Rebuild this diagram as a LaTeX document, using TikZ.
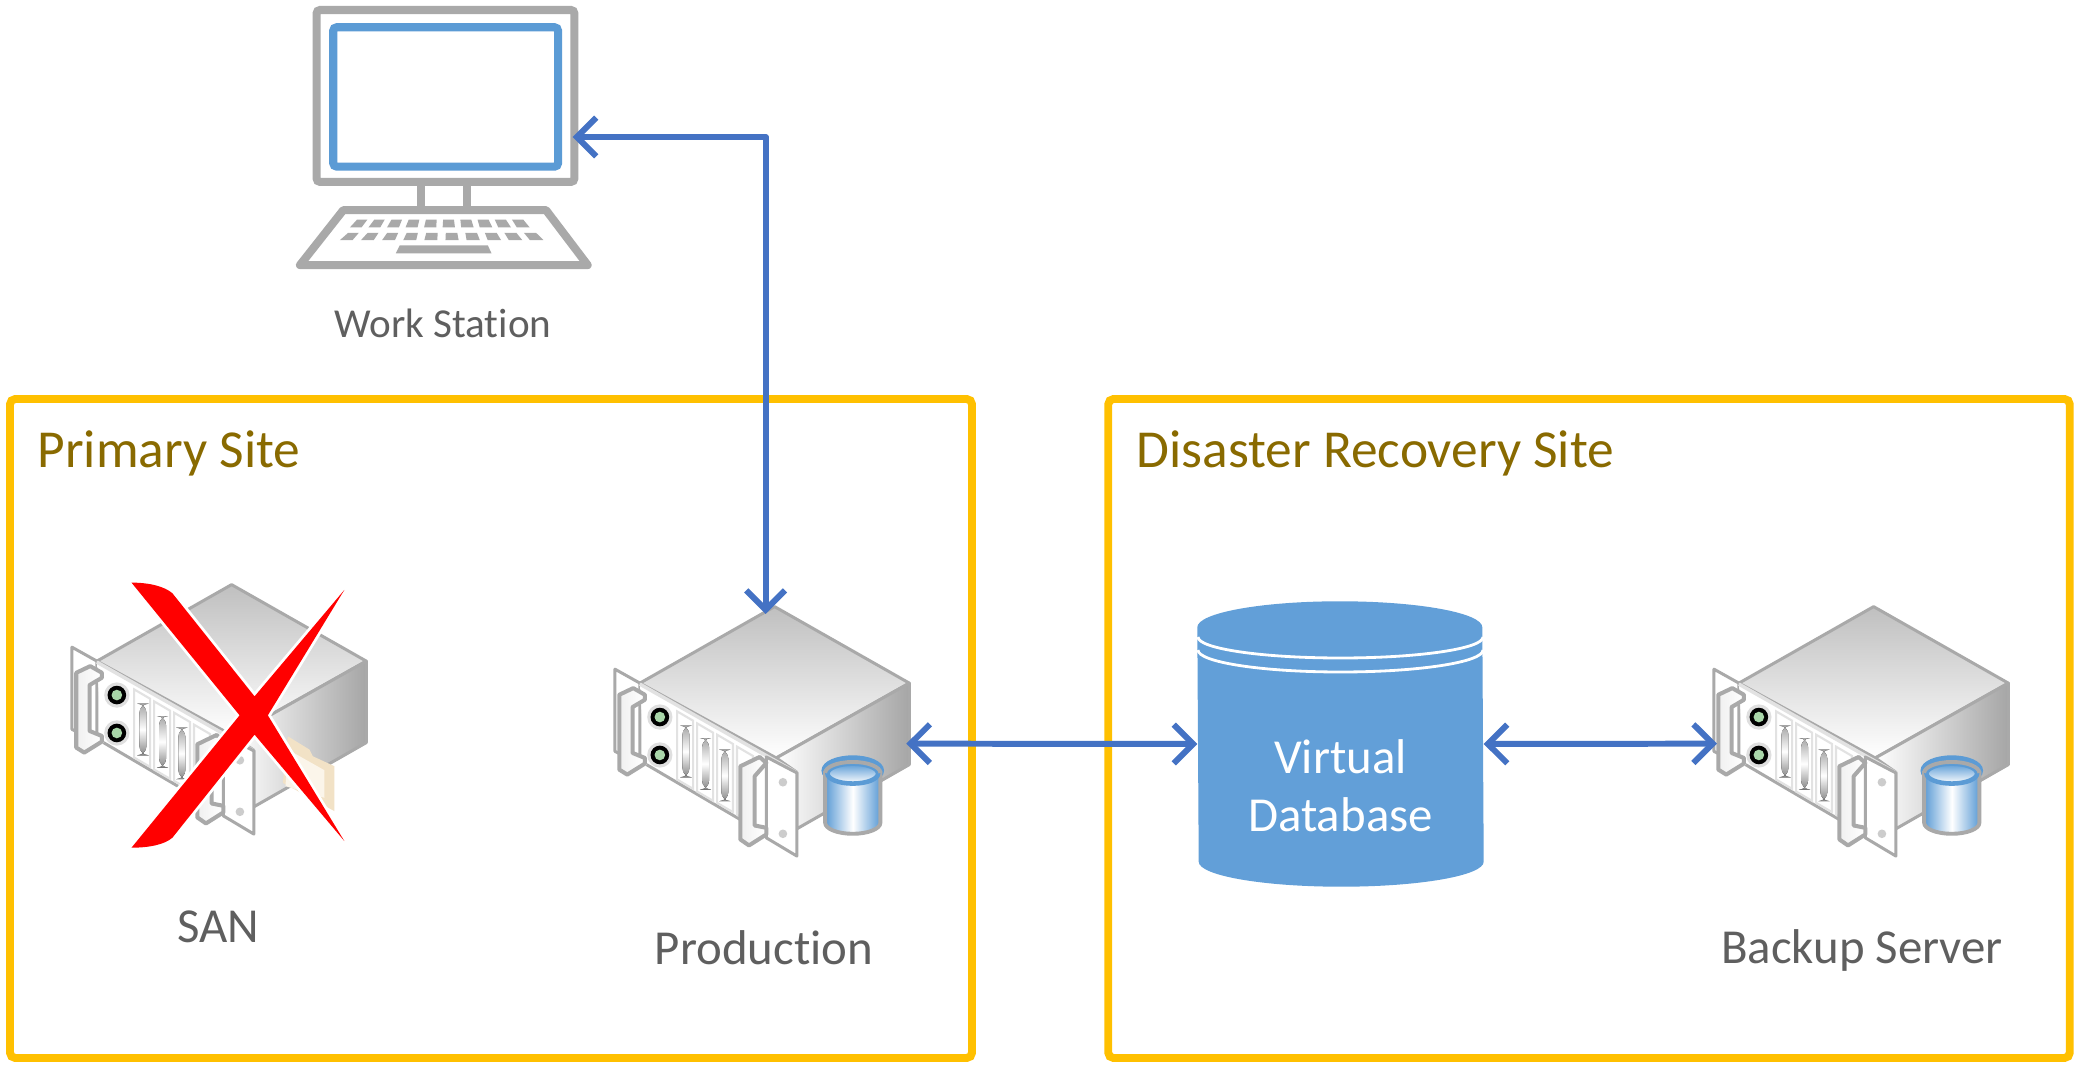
\documentclass[tikz,border=0pt]{standalone}
\usepackage{fontspec}
\setmainfont[Ligatures=NoCommon]{Carlito}
\usetikzlibrary{arrows.meta}
\definecolor{sitegold}{HTML}{FFC000}
\definecolor{titlegold}{HTML}{896A00}
\definecolor{labelgray}{HTML}{5F5F5F}
\definecolor{linkblue}{HTML}{4472C4}
\definecolor{dbblue}{HTML}{629FD8}
\definecolor{iconblue}{HTML}{5B9BD5}
\definecolor{icongray}{HTML}{A9A9A9}
\definecolor{rimgray}{HTML}{E2E2E2}
\definecolor{foldertan}{HTML}{F2E2C6}
\definecolor{foldercream}{HTML}{FBF5EA}
\tikzset{
  zoomgrid/.style={x=0.0033333cm,y=-0.0033333cm},
  sitebox/.style={draw=sitegold,line width=2.25pt,rounded corners=1.5pt},
  sitetitle/.style={text=titlegold,anchor=west,font=\fontsize{15.2}{18}\selectfont,inner sep=0pt},
  devlabel/.style={text=labelgray,font=\fontsize{13.9}{17}\selectfont,inner sep=0pt},
  link/.style={draw=linkblue,line width=1.7pt,line cap=round,line join=round,
    {Straight Barb[length=5.5pt,width=11pt,line width=1.7pt]}-{Straight Barb[length=5.5pt,width=11pt,line width=1.7pt]}},
  hull/.style={draw=icongray,line width=.85pt,line join=round},
  lug/.style={hull,line width=1.15pt,left color=gray!12,right color=white},
  pill/.style={rounded corners=2.6pt,top color=gray!70,bottom color=gray!95,middle color=white},
  server/.pic={
    \begin{scope}[zoomgrid]
      % rear ears sit behind the chassis
      \draw[hull,fill=white] (75,238) -- (150,280) -- (150,525) -- (75,485) -- cycle;
      \draw[hull,top color=gray!50,bottom color=white] (150,280) -- (555,50) -- (960,280) -- (560,505) -- cycle;
      \draw[hull,left color=white,right color=gray!70,draw=icongray] (560,505) -- (960,280) -- (960,525) -- (622,718) -- (622,548) -- cycle;
      \fill[white] (150,280) -- (622,548) -- (622,718) -- (165,525) -- cycle;
      \draw[rimgray,line width=1pt] (150,283) -- (622,550);
      \draw[hull] (170,525) -- (455,692);
      \draw[hull,fill=white] (530,502) -- (622,550) -- (622,800) -- (530,745) -- cycle;
      % front panel
      \foreach \a/\b in {262/0,322/36,382/70,442/106}
        \draw[rimgray,fill=white,line width=.6pt] (\a,365+\b) -- (\a+48,393+\b) -- (\a+48,598+\b) -- (\a,570+\b) -- cycle;
      \foreach \a/\b in {278/408,337/445,395/480}
        \fill[pill] (\a,\b) rectangle (\a+21,\b+155);
      \foreach \b in {382,496}{
        \fill[gray!25] (210,\b) circle (38);
        \fill[black] (210,\b) circle (28);
        \fill[green!35!gray!50] (210,\b) circle (16);
      }
      \foreach \b in {578,733}
        \fill[gray!40] (580,\b) circle (13);
      % handles
      \draw[lug] (88,315) -- (130,295) -- (165,315) -- (165,330) -- (128,352) -- (128,490) -- (165,505) -- (165,522) -- (112,555) -- (88,540) -- cycle;
      \draw[lug] (452,530) -- (510,502) -- (530,520) -- (495,560) -- (495,708) -- (530,715) -- (530,735) -- (478,768) -- (452,750) -- cycle;
      \coordinate (-top) at (528,72);
      \coordinate (-east) at (951,462);
      \coordinate (-west) at (84,462);
    \end{scope}
  },
  minidb/.pic={
    \begin{scope}[zoomgrid]
      \draw[iconblue,line width=1.5pt] (790,543) ellipse (86 and 38);
      \draw[icongray,line width=1.1pt,left color=iconblue,right color=iconblue,middle color=white]
        (707,550) -- (707,700) arc (180:0:83 and 33) -- (873,550) -- cycle;
      \draw[iconblue,line width=1.3pt,top color=iconblue,bottom color=white] (790,552) ellipse (76 and 30);
      \draw[icongray,line width=1.1pt] (707,550) arc (180:360:83 and 33);
    \end{scope}
  },
}
\begin{document}
\begin{tikzpicture}
  \useasboundingbox (0,0) rectangle (20.76,10.65);
  \fill[white] (0,0) rectangle (20.76,10.65);
  % sites
  \node[sitebox,minimum width=9.62cm,minimum height=6.59cm] (primary) at(4.91, 3.365){};
  \node[sitebox,minimum width=9.615cm,minimum height=6.59cm] (recovery) at(15.89, 3.365){};
  \node[sitetitle] (primarytitle) at(0.37, 6.12){Primary Site};
  \node[sitetitle] (recoverytitle) at(11.36, 6.12){Disaster Recovery Site};
  % work station
  \begin{scope}[shift={(2.8, 10.65)},zoomgrid]
    \draw[icongray,line width=2.3pt,rounded corners=1pt] (110,30) rectangle (885,547);
    \draw[iconblue,line width=2.3pt,rounded corners=1pt] (160,82) rectangle (836,501);
    \draw[icongray,line width=2.3pt] (425,547) -- (425,632) (562,547) -- (562,632);
    \draw[icongray,line width=2.3pt,line join=round] (190,632) -- (800,632) -- (925,797) -- (60,797) -- cycle;
    \foreach \i in {0,...,9}{
      \fill[icongray] ({210+55.8*\i},684) -- ({245+56.2*\i},684) -- ({263+52*\i},660) -- ({232+51.7*\i},660) -- cycle;
      \fill[icongray] ({180+63.5*\i},722) -- ({218+63.8*\i},722) -- ({237+59.2*\i},700) -- ({205+58.7*\i},700) -- cycle;
    }
    \fill[icongray] (360,738) -- (625,738) -- (636,762) -- (348,762) -- cycle;
    \coordinate (station) at (880,412);
  \end{scope}
  \node[devlabel,font=\fontsize{11.7}{14}\selectfont] (stationlabel) at(4.43, 7.42){Work Station};
  % servers
  \pic (san) at(0.47, 4.97) {server};
  \begin{scope}[shift={(0.5, 5.05)},zoomgrid]
    \fill[foldertan] (715,530) -- (780,570) -- (790,590) -- (855,620) -- (855,755) -- (700,670) -- cycle;
    \fill[foldercream] (715,570) -- (825,632) -- (825,715) -- (708,680) -- cycle;
    \path[preaction={draw=white,line width=1.6pt,line join=round},fill=red] (245,68) .. controls (300,68) and (345,80) .. (368,100) -- (615,410) -- (885,90) -- (655,467) -- (885,845) -- (615,525) -- (368,835) .. controls (345,855) and (300,865) .. (245,865) -- (570,467) -- cycle;
  \end{scope}
  \node[devlabel] (sanlabel) at(2.18, 1.38){SAN};
  \pic (production) at(5.9, 4.75) {server};
  \pic at(5.9, 4.75) {minidb};
  \node[devlabel] (productionlabel) at(7.64, 1.17){Production};
  \pic (backup) at(16.89, 4.75) {server};
  \pic at(16.89, 4.75) {minidb};
  \node[devlabel] (backuplabel) at(18.62, 1.15){Backup Server};
  % database
  \node[minimum width=2.85cm,minimum height=2.84cm,inner sep=0pt] (vdb) at(13.405, 3.21){};
  \fill[dbblue] ([yshift=-.26cm]vdb.north west) arc (180:0:1.425 and .26) -- ([yshift=.25cm]vdb.south east) arc (0:-180:1.425 and .25) -- cycle;
  \node[text=white,align=center,inner sep=0pt,font=\fontsize{13.9}{16.6}\selectfont] (vdblabel) at(13.405, 2.79){Virtual\\Database};
  \draw[white,line width=.8pt] (11.98,4.28) arc (180:360:1.425 and .21);
  \draw[white,line width=.8pt] (11.98,4.15) arc (180:360:1.425 and .22);
  % links
  \draw[link] (station) -| (production-top);
  \draw[link] (production-east) -- (vdb.west);
  \draw[link] (vdb.east) -- (backup-west);
\end{tikzpicture}
\end{document}
